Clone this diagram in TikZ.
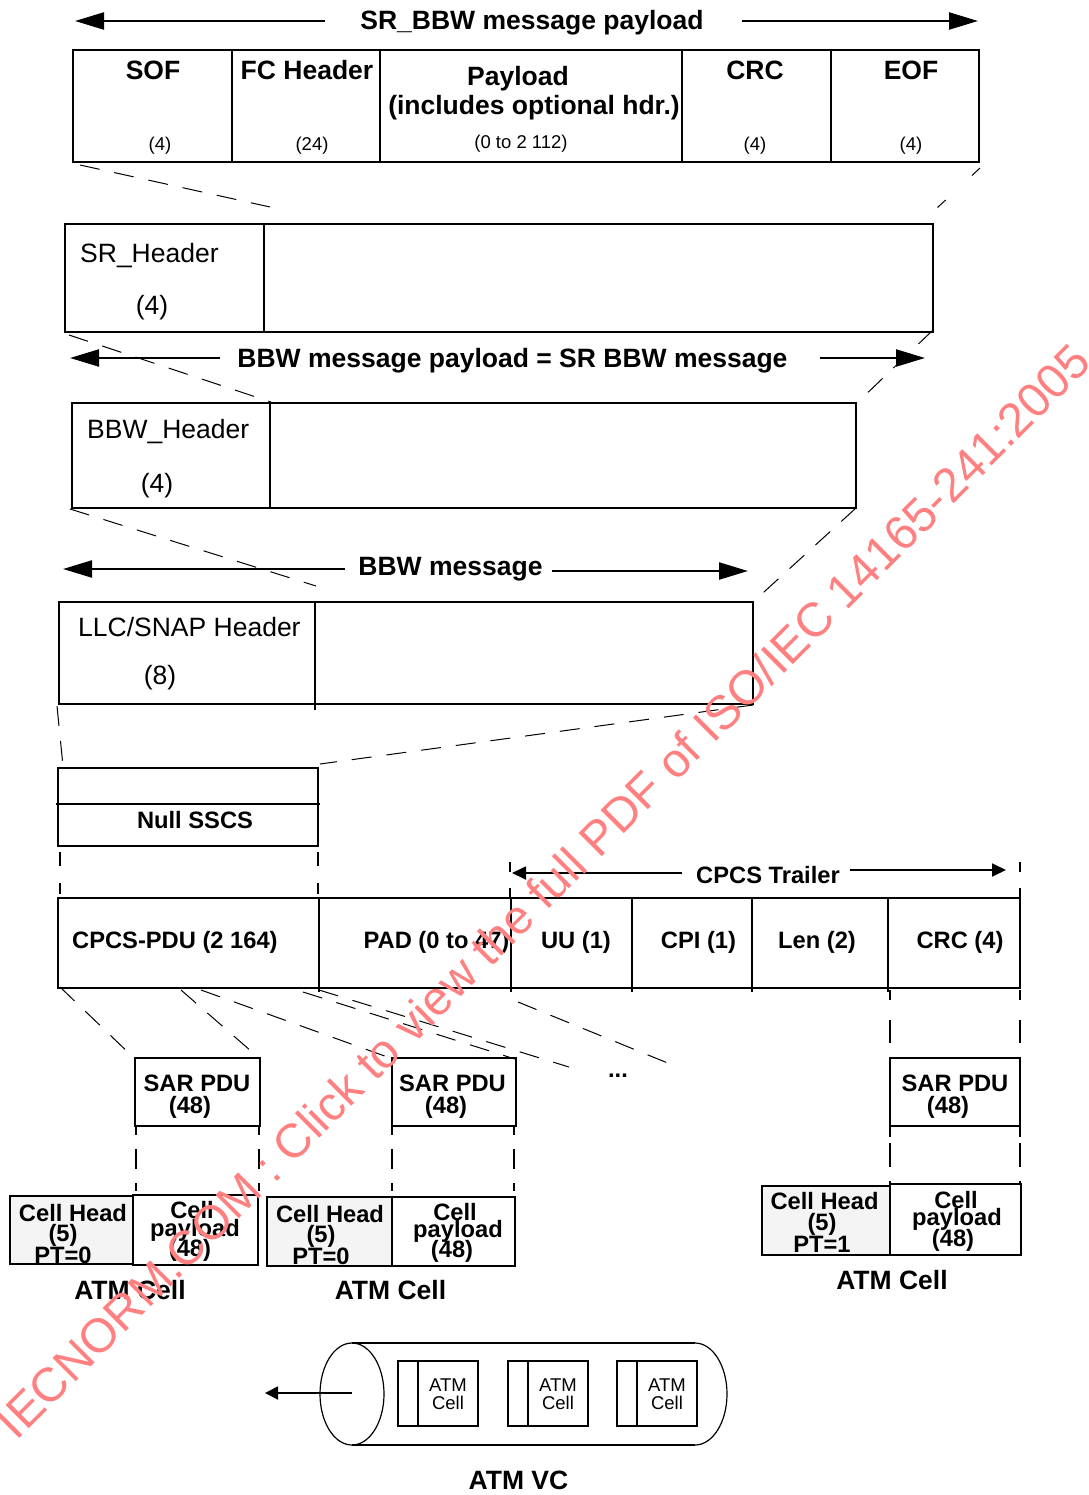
\documentclass[tikz,border=0pt]{standalone}
\usepackage{fontspec}
\setmainfont{Liberation Sans}
\usetikzlibrary{arrows.meta}
\definecolor{wm}{RGB}{255,128,128}
\definecolor{headgray}{RGB}{244,244,244}
\begin{document}
\begin{tikzpicture}[x=1pt,y=-1pt,
  box/.style={line width=2.2pt},
  div/.style={line width=1.2pt},
  dsh/.style={line width=1pt, dash pattern=on 20pt off 15pt},
  vdsh/.style={line width=1.2pt, dash pattern=on 12pt off 16pt},
  bigarr/.style={line width=2.2pt, -{Triangle[length=29pt,width=17pt]}},
  smallarr/.style={line width=1.8pt, -{Triangle[length=14pt,width=13pt]}},
  bt/.style={font=\fontsize{26.5}{28}\selectfont\bfseries, inner sep=0pt, anchor=base},
  mt/.style={font=\fontsize{23.7}{25}\selectfont\bfseries, inner sep=0pt, anchor=base},
  rt/.style={font=\fontsize{26.5}{28}\selectfont, inner sep=0pt, anchor=base},
  st/.style={font=\fontsize{18.5}{20}\selectfont, inner sep=0pt, anchor=base},
]
\useasboundingbox (0,0) rectangle (1088,1495);

% ---------- top frame ----------
\node[bt] (t1) at (532,30) {SR\_BBW message payload};
\draw[bigarr] (325,21) -- (75,21);
\draw[bigarr] (742,21) -- (978,21);
\draw[box] (73,50) rectangle (979,162);
\foreach \x in {232,380,682,831} \draw[div] (\x,50) -- (\x,162);
\node[bt] (sof) at (153,80) {SOF};
\node[bt] (fch) at (307,80) {FC Header};
\node[bt] (pl1) at (518,85.5) {Payload};
\node[bt] (pl2) at (534,114.5) {(includes optional hdr.)};
\node[bt] (crc1) at (755,80) {CRC};
\node[bt] (eof) at (911,80) {EOF};
\node[st] (n1) at (160,151) {(4)};
\node[st] (n2) at (312,151) {(24)};
\node[st] (n3) at (521,148.5) {(0 to 2 112)};
\node[st] (n4) at (755,151) {(4)};
\node[st] (n5) at (911,151) {(4)};

\draw[dsh] (80,165) -- (270,207);
\draw[line width=1pt, dash pattern=on 11pt off 36pt] (980,168) -- (937,208);

% ---------- SR header ----------
\draw[box] (65,224) rectangle (933,332);
\draw[div] (264,224) -- (264,332);
\node[rt, anchor=base west] (srh) at (80,262.5) {SR\_Header};
\node[rt] (srn) at (152,315) {(4)};

\draw[dsh] (69,335) -- (271,402);
\draw[dsh] (933,330) -- (858,402);
\node[bt] (t2) at (512.5,367.5) {BBW message payload = SR BBW message};
\draw[bigarr] (220,358) -- (70,358);
\draw[bigarr] (820,358) -- (925,358);

% ---------- BBW header ----------
\draw[box] (72,403) rectangle (856,508);
\draw[div] (270,403) -- (270,508);
\node[rt, anchor=base west] (bbwh) at (87,438.5) {BBW\_Header};
\node[rt] (bbwn) at (157,492) {(4)};

\draw[dsh] (70,509) -- (316,586);
\draw[dsh] (856,508) -- (753,602);
\node[bt] (t3) at (450.5,575.5) {BBW message};
\draw[bigarr] (345,569) -- (63,569);
\draw[bigarr] (552,571) -- (748,571);

% ---------- LLC/SNAP ----------
\draw[box] (59,602) rectangle (753,704);
\draw[div] (315,602) -- (315,710);
\node[rt, anchor=base west] (llc) at (78,636.5) {LLC/SNAP Header};
\node[rt] (llcn) at (160,684) {(8)};

\draw[dsh] (57,706) -- (63,766);
\draw[dsh] (753,705) -- (320,764);

% ---------- Null SSCS ----------
\draw[box] (58,768) rectangle (318,846);
\draw[box] (56,804) -- (320,804);
\node[mt] (null) at (195,828.5) {Null SSCS};
\draw[line width=1.2pt, dash pattern=on 14pt off 17pt] (60,852) -- (60,894);
\draw[line width=1.2pt, dash pattern=on 14pt off 17pt] (318,852) -- (318,894);

% ---------- CPCS ----------
\draw[line width=1.2pt, dash pattern=on 10pt off 16pt] (510,862) -- (510,898);
\draw[line width=1.2pt, dash pattern=on 10pt off 16pt] (1020,862) -- (1020,898);
\node[mt] (trl) at (768,883.5) {CPCS Trailer};
\draw[smallarr] (682,873) -- (512,873);
\draw[smallarr] (850,870) -- (1006,870);
\draw[box] (58,898) rectangle (1020,988);
\foreach \x in {319,511,632,752,888} \draw[div] (\x,898) -- (\x,992);
\node[mt, anchor=base west] (pdu) at (72,948.5) {CPCS-PDU (2 164)};
\node[mt] (pad) at (436.5,948.5) {PAD (0 to 47)};
\node[mt] (uu) at (576,948.5) {UU (1)};
\node[mt] (cpi) at (698.5,948.5) {CPI (1)};
\node[mt] (len) at (817,948.5) {Len (2)};
\node[mt] (crc2) at (960,948.5) {CRC (4)};

% dashed lines to SAR PDUs
\draw[dsh] (60,987) -- (134,1058);
\draw[dsh] (181,990) -- (259,1058);
\draw[dsh] (201,990) -- (393,1059);
\draw[dsh] (303,992) -- (515,1059);
\draw[dsh] (319,990) -- (569,1067);
\draw[dsh] (518,1002) -- (680,1068);
\draw[line width=1.2pt, dash pattern=on 10pt off 20pt on 23pt off 14pt] (890,990) -- (890,1058);
\draw[line width=1.2pt, dash pattern=on 10pt off 20pt on 23pt off 14pt] (1020,990) -- (1020,1058);

% ---------- SAR PDUs ----------
\draw[box] (135,1058) rectangle (260,1126);
\draw[box] (392,1058) rectangle (516,1126);
\draw[box] (890,1058) rectangle (1020,1126);
\node[mt] (sar1) at (197,1091.5) {SAR PDU};
\node[mt] (sar1n) at (190,1113) {(48)};
\node[mt] (sar2) at (452.5,1091.5) {SAR PDU};
\node[mt] (sar2n) at (446,1113) {(48)};
\node[mt] (sar3) at (955,1091.5) {SAR PDU};
\node[mt] (sar3n) at (948,1113) {(48)};
\node[mt] (dots) at (618,1077) {...};

\foreach \x in {136,259,392,514}
  \draw[line width=1.2pt, dash pattern=on 8pt off 14pt on 20pt off 14pt] (\x,1127) -- (\x,1196);
\foreach \x in {890,1020}
  \draw[line width=1.2pt, dash pattern=on 10pt off 6pt on 24pt off 14pt] (\x,1127) -- (\x,1185);

% ---------- ATM cells ----------
\draw[box, fill=headgray] (10,1196) rectangle (133,1264);
\draw[box] (133,1195) rectangle (258,1265);
\draw[box, fill=headgray] (267,1197) rectangle (392,1266);
\draw[box] (392,1197) rectangle (515,1266);
\draw[box, fill=headgray] (762,1186) rectangle (890,1255);
\draw[box] (890,1184) rectangle (1021,1255);

\node[mt] (c1a) at (73,1221.5) {Cell Head};
\node[mt] (c1b) at (63,1241) {(5)};
\node[mt] (c1c) at (63,1263.5) {PT=0};
\node[mt] (c1d) at (192,1218.5) {Cell};
\node[mt] (c1e) at (195,1236) {payload};
\node[mt] (c1f) at (190,1256) {(48)};

\node[mt] (c2a) at (330,1222) {Cell Head};
\node[mt] (c2b) at (321,1242) {(5)};
\node[mt] (c2c) at (321,1264) {PT=0};
\node[mt] (c2d) at (455,1220.5) {Cell};
\node[mt] (c2e) at (458,1237) {payload};
\node[mt] (c2f) at (452,1257) {(48)};

\node[mt] (c3a) at (824.5,1209.5) {Cell Head};
\node[mt] (c3b) at (822,1230) {(5)};
\node[mt] (c3c) at (822,1252.5) {PT=1};
\node[mt] (c3d) at (956,1208.5) {Cell};
\node[mt] (c3e) at (957,1225) {payload};
\node[mt] (c3f) at (953,1246) {(48)};

\node[bt] (atm1) at (130,1299.5) {ATM Cell};
\node[bt] (atm2) at (390.5,1299.5) {ATM Cell};
\node[bt] (atm3) at (892,1289.5) {ATM Cell};

% ---------- ATM VC ----------
\draw[line width=1.2pt] (352,1343) -- (695,1343);
\draw[line width=1.2pt] (352,1445) -- (695,1445);
\draw[line width=1.2pt] (695,1343) arc[start angle=90, end angle=-90, x radius=32, y radius=-51];
\draw[line width=1.2pt] (352,1394) ellipse [x radius=32, y radius=51];
\foreach \x/\n in {398/a,508/b,617/c}{
  \draw[line width=1.6pt] (\x,1361) rectangle (\x+80,1426);
  \draw[line width=1.6pt] (\x+20,1361) -- (\x+20,1426);
  \node[font=\fontsize{18.5}{17.5}\selectfont, align=center, inner sep=0pt] (vc\n) at (\x+50,1394) {ATM\\Cell};
}
\coordinate (vcl) at (352,1393);
\coordinate (vcout) at (265,1393);
\draw[line width=1.8pt, -{Triangle[length=13pt,width=13pt]}] (vcl) -- (vcout);
\node[bt] (vc) at (518.5,1489.5) {ATM VC};

% ---------- watermark ----------
\node[rotate=45, text=wm, inner sep=0pt, font=\fontsize{47.8}{47.8}\selectfont] (wmk) at (543,891)
  {IECNORM.COM : Click to view the full PDF of ISO/IEC 14165-241:2005};
\end{tikzpicture}
\end{document}
